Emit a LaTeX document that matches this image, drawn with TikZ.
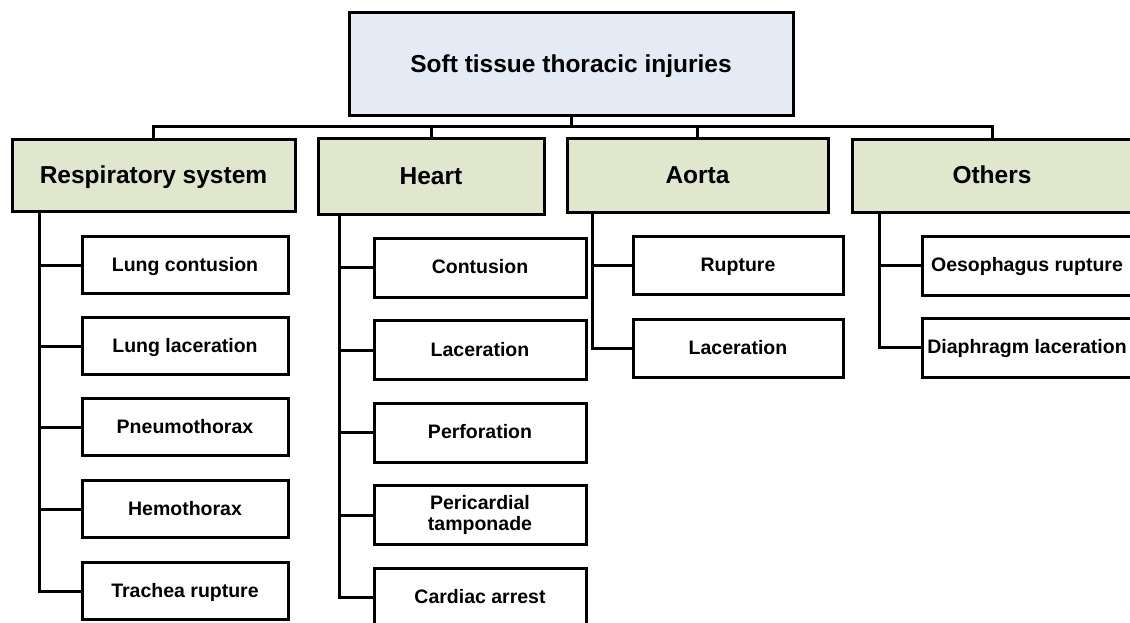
\documentclass[tikz,border=0pt]{standalone}
\usepackage{fontspec}
\setmainfont{Liberation Sans}
\usetikzlibrary{calc}
\definecolor{titlefill}{RGB}{228,235,245}
\definecolor{groupfill}{RGB}{224,231,204}
\tikzset{
  box/.style={draw=black, line width=3pt, inner sep=0pt, align=center},
  bigline/.style={text height=17.5pt, text depth=2pt},
  smallline/.style={text height=14pt, text depth=1.5pt},
  titlebox/.style={box, bigline, fill=titlefill, font=\fontsize{24.5}{28}\selectfont\bfseries},
  groupbox/.style={box, bigline, fill=groupfill, font=\fontsize{24.5}{28}\selectfont\bfseries},
  itembox/.style={box, fill=white, font=\fontsize{19.5}{21.5}\selectfont\bfseries},
  respitem/.style={itembox, smallline, minimum width=206pt, minimum height=57pt},
  heartitem/.style={itembox, smallline, minimum width=212pt, minimum height=59pt},
  hearttwo/.style={itembox, minimum width=212pt, minimum height=59pt},
  aortaitem/.style={itembox, smallline, minimum width=210pt, minimum height=58pt},
  otheritem/.style={itembox, smallline, minimum width=210pt, minimum height=59pt},
  link/.style={draw=black, line width=3pt},
}
\begin{document}
\begin{tikzpicture}[x=1pt, y=-1pt]
\useasboundingbox (0,0) rectangle (1130,623);
\clip (0,0) rectangle (1130,623);

% root
\node[titlebox, minimum width=444pt, minimum height=103pt] (top) at (571,64.5) {Soft tissue thoracic injuries};

% groups
\node[groupbox, minimum width=283pt, minimum height=71pt] (resp)   at (153.5,175.5) {Respiratory system};
\node[groupbox, minimum width=226pt, minimum height=75pt] (heart)  at (431,176.5)   {Heart};
\node[groupbox, minimum width=261pt, minimum height=73pt] (aorta)  at (697.5,175.5) {Aorta};
\node[groupbox, minimum width=280pt, minimum height=72pt] (others) at (992,176)     {Others};

% respiratory system
\node[respitem] (r1) at (185,265)   {Lung contusion};
\node[respitem] (r2) at (185,346)   {Lung laceration};
\node[respitem] (r3) at (185,427)   {Pneumothorax};
\node[respitem] (r4) at (185,509)   {Hemothorax};
\node[respitem] (r5) at (185,591)   {Trachea rupture};

% heart
\node[heartitem] (h1) at (480,267.5) {Contusion};
\node[heartitem] (h2) at (480,350)   {Laceration};
\node[heartitem] (h3) at (480,432.5) {Perforation};
\node[hearttwo]  (h4) at (480,515)   {Pericardial\\tamponade};
\node[heartitem] (h5) at (480,597.5) {Cardiac arrest};

% aorta
\node[aortaitem] (a1) at (738,265.5) {Rupture};
\node[aortaitem] (a2) at (738,348.5) {Laceration};

% others
\node[otheritem] (o1) at (1027,265.5) {Oesophagus rupture};
\node[otheritem] (o2) at (1027,347.5) {Diaphragm laceration};

% bus from the root to the groups
\coordinate (bus) at (0,127);
\draw[link] (top.south) -- (top.south |- bus);
\draw[link] (resp.north) -- (resp.north |- bus) -| (others.north);
\draw[link] (heart.north) -- (heart.north |- bus);
\draw[link] (aorta.north) -- (aorta.north |- bus);

% trunks from each group to its items
\foreach \c in {r1,r2,r3,r4,r5}
  \draw[link] ($(resp.south west)+(29,0)$) |- (\c.west);
\foreach \c in {h1,h2,h3,h4,h5}
  \draw[link] ($(heart.south west)+(23,0)$) |- (\c.west);
\foreach \c in {a1,a2}
  \draw[link] ($(aorta.south west)+(27,0)$) |- (\c.west);
\foreach \c in {o1,o2}
  \draw[link] ($(others.south west)+(29,0)$) |- (\c.west);
\end{tikzpicture}
\end{document}
